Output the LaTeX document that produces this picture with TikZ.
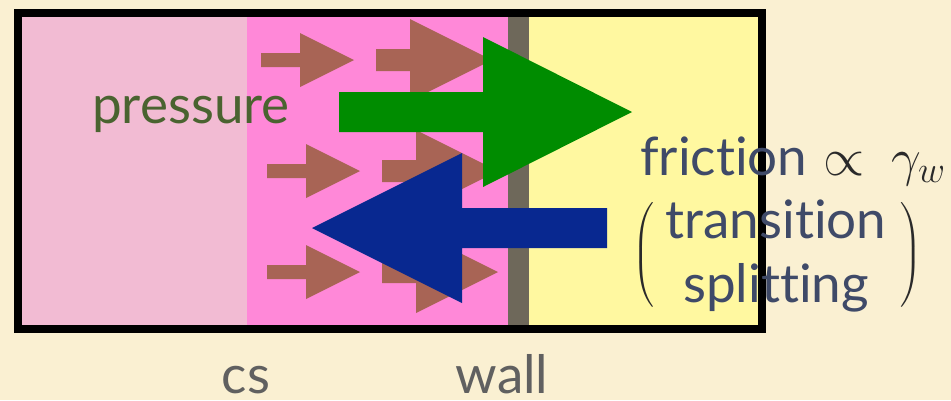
\RequirePackage{fix-cm}
\documentclass[tikz,border=0pt]{standalone}
\usepackage{amsmath}
\usepackage{fontspec}
\setmainfont{Lato}[Ligatures=NoCommon]
\usepackage{tikz}
\definecolor{bgcream}{HTML}{FAF0D2}
\definecolor{cspink}{HTML}{F2BBD3}
\definecolor{flowpink}{HTML}{FF88D8}
\definecolor{wallgray}{HTML}{6E685A}
\definecolor{wallyellow}{HTML}{FFF8A0}
\definecolor{arrbrown}{HTML}{A86455}
\definecolor{pressgreen}{HTML}{008C00}
\definecolor{fricblue}{HTML}{082890}
\definecolor{presstext}{HTML}{4A6330}
\definecolor{frictext}{HTML}{3F4A68}
\definecolor{mathgray}{HTML}{2A2A2A}
\definecolor{lblgray}{HTML}{606060}
\tikzset{
  smallarr/.style={fill=arrbrown},
  lbl/.style={font=\fontsize{53}{64}\selectfont, inner sep=0pt},
  paren/.style={font=\fontsize{58}{70}\selectfont, inner sep=0pt, text=mathgray}
}
% block arrow: [style] tail, head base, tip, y, shaft half, head half
\newcommand{\blockarrow}[7][]{%
  \fill[#1] (#2,{#5-#6}) -- (#3,{#5-#6}) -- (#3,{#5-#7}) -- (#4,#5)
    -- (#3,{#5+#7}) -- (#3,{#5+#6}) -- (#2,{#5+#6}) -- cycle;}

\begin{document}
\begin{tikzpicture}[x=1pt, y=-1pt]
  \fill[bgcream] (0,0) rectangle (951,400);
  \useasboundingbox (0,0) rectangle (951,400);

  % regions
  \fill[cspink] (18,13) rectangle (247,329);
  \fill[flowpink] (247,13) rectangle (508,329);
  \fill[wallgray] (508,13) rectangle (529,329);
  \fill[wallyellow] (529,13) rectangle (762,329);
  \draw[line width=8pt] (18,13) rectangle (762,329);

  % small flow arrows
  \foreach \t/\y in {261/60,267/171,267/272}
    \blockarrow[smallarr]{\t}{\t+39}{\t+93}{\y}{7}{27};
  \foreach \t/\y in {376/60,382/171,382/272}
    \blockarrow[smallarr]{\t}{\t+34}{\t+116}{\y}{11}{41};

  % pressure and friction
  \blockarrow[fill=pressgreen]{339}{483}{632}{112}{20}{75};
  \blockarrow[fill=fricblue]{607}{462}{312}{228}{20}{75};

  \node[lbl, text=presstext, anchor=base west] (pressure) at (92,123) {pressure};
  \node[lbl, text=frictext, anchor=base west] (friction) at (640,175)
    {friction\hspace{16pt}\textcolor{mathgray}{$\propto\mkern4mu\gamma_w$}};
  \node[lbl, text=frictext, anchor=base] (transition) at (776,238) {transition};
  \node[lbl, text=frictext, anchor=base] (splitting) at (776,302) {splitting};
  \node[paren] (lparen) at (643,255) {$\Bigl($};
  \node[paren] (rparen) at (911,255) {$\Bigr)$};

  % labels below
  \node[lbl, text=lblgray, anchor=base] (cs) at (246,393) {cs};
  \node[lbl, text=lblgray, anchor=base] (wall) at (502,393) {wall};
\end{tikzpicture}
\end{document}
